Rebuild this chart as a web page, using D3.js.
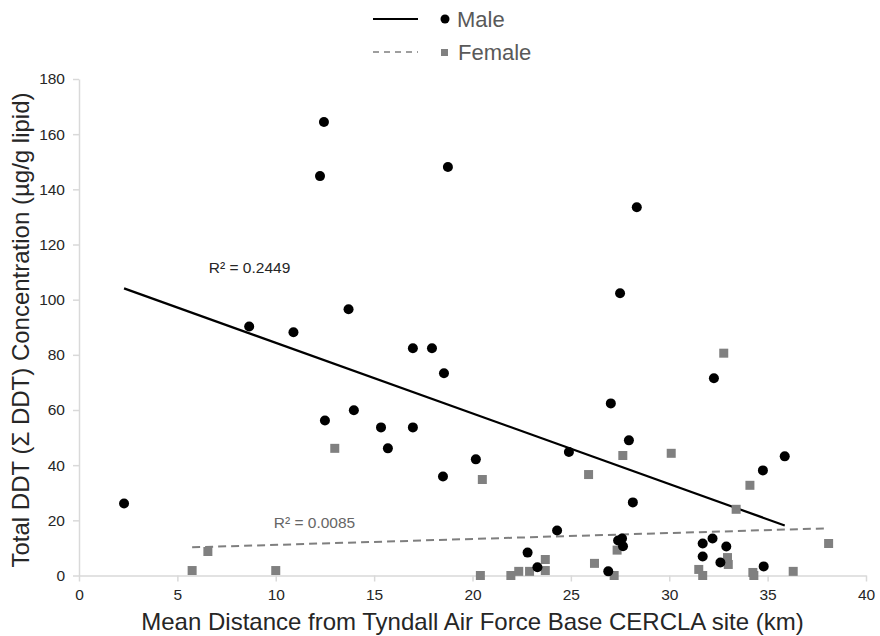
<!DOCTYPE html>
<html><head><meta charset="utf-8">
<script src="https://cdn.jsdelivr.net/npm/d3@7"></script>
<style>body{margin:0;background:#fff;} svg{display:block;font-family:"Liberation Sans",Arial,sans-serif;}</style>
</head><body>
<svg id="c" width="880" height="636"></svg>
<script>
const maleX = [2.29,8.65,10.9,12.25,12.45,12.5,13.7,13.97,15.35,15.7,16.97,16.97,17.94,18.55,18.5,18.75,20.17,22.8,23.3,24.3,24.9,26.9,27.03,27.4,27.6,27.65,27.5,27.95,28.15,28.35,31.7,31.7,32.2,32.27,32.6,32.9,34.76,34.8,35.87];
const maleY = [26.1,90.3,88.2,144.8,164.4,56.2,96.5,59.9,53.7,46.1,82.4,53.7,82.4,73.3,35.9,148.1,42.1,8.3,3.0,16.3,44.8,1.5,62.4,12.7,13.4,10.6,102.3,49.0,26.5,133.5,11.6,6.9,13.4,71.5,4.7,10.5,38.1,3.3,43.2];
const femaleX = [5.75,6.55,10.0,13.0,20.4,20.5,21.95,22.35,22.9,23.7,23.7,25.9,26.2,27.2,27.35,27.64,30.1,31.5,31.7,32.77,32.96,33.0,33.4,34.1,34.25,34.3,36.3,38.1];
const femaleY = [1.8,8.7,1.8,46.1,0,34.8,0,1.5,1.5,5.8,1.8,36.6,4.4,0,9.2,43.5,44.3,2.2,0,80.6,6.5,4.0,24.0,32.7,1.1,0,1.5,11.6];
const maleTrend = {slope:-2.56, intercept:109.96, r2:"R² = 0.2449"};
const femaleTrend = {slope:0.214, intercept:8.97, r2:"R² = 0.0085"};
const xTicks = [0,5,10,15,20,25,30,35,40];
const yTicks = [0,20,40,60,80,100,120,140,160,180];
const seriesNames = ["Male","Female"];

const svg = d3.select("#c");
const x = d3.scaleLinear().domain([0,40]).range([79,866]);
const y = d3.scaleLinear().domain([0,180]).range([575.5,79]);

// axes
const gx = svg.append("g").attr("transform","translate(0,575.5)")
  .call(d3.axisBottom(x).tickValues(xTicks).tickSize(6).tickPadding(7).tickSizeOuter(0));
const gy = svg.append("g").attr("transform","translate(79,0)")
  .call(d3.axisLeft(y).tickValues(yTicks).tickSize(6).tickPadding(8).tickSizeOuter(0));
[gx,gy].forEach(g=>{
  g.select(".domain").attr("stroke","#d9d9d9").attr("stroke-width",1.5);
  g.selectAll(".tick line").attr("stroke","#d9d9d9").attr("stroke-width",1.5);
  g.selectAll(".tick text").attr("fill","#262626").style("font-size","15.5px").style("font-family","Liberation Sans, Arial, sans-serif");
});

// trend lines
function trendPts(xs, t){
  const ext = d3.extent(xs);
  return ext.map(v=>[v, t.intercept + t.slope*v]);
}
const line = d3.line().x(d=>x(d[0])).y(d=>y(d[1]));
svg.append("path").attr("d", line(trendPts(maleX, maleTrend)))
  .attr("stroke","#000").attr("stroke-width",2.2).attr("fill","none");
svg.append("path").attr("d", line(trendPts(femaleX, femaleTrend)))
  .attr("stroke","#7f7f7f").attr("stroke-width",2).attr("stroke-dasharray","8,5").attr("fill","none");

// points
const fem = femaleX.map((v,i)=>[v,femaleY[i]]);
const mal = maleX.map((v,i)=>[v,maleY[i]]);
svg.append("g").selectAll("rect").data(fem).join("rect")
  .attr("x",d=>x(d[0])-4.5).attr("y",d=>y(d[1])-4.5).attr("width",9).attr("height",9)
  .attr("fill","#808080");
svg.append("g").selectAll("circle").data(mal).join("circle")
  .attr("cx",d=>x(d[0])).attr("cy",d=>y(d[1])).attr("r",5).attr("fill","#000");

// R2 labels
svg.append("text").attr("x",x(6.6)).attr("y",y(109.5)).text(maleTrend.r2)
  .attr("fill","#262626").style("font-size","15.5px");
svg.append("text").attr("x",x(9.9)).attr("y",y(17.3)).text(femaleTrend.r2)
  .attr("fill","#666").style("font-size","15.5px");

// axis titles
svg.append("text").attr("x",x(20)).attr("y",630).attr("text-anchor","middle")
  .text("Mean Distance from Tyndall Air Force Base CERCLA site (km)")
  .attr("fill","#262626").style("font-size","24px");
svg.append("text").attr("transform",`translate(29,${y(89)}) rotate(-90)`).attr("text-anchor","middle")
  .text("Total DDT (Σ DDT) Concentration (µg/g lipid)")
  .attr("fill","#262626").style("font-size","24px");

// legend
const lg = svg.append("g");
lg.append("line").attr("x1",373).attr("x2",418).attr("y1",19).attr("y2",19).attr("stroke","#000").attr("stroke-width",2.2);
lg.append("circle").attr("cx",445).attr("cy",19).attr("r",4.5).attr("fill","#000");
lg.append("text").attr("x",457).attr("y",27).text(seriesNames[0]).attr("fill","#595959").style("font-size","22px");
lg.append("line").attr("x1",373).attr("x2",418).attr("y1",52).attr("y2",52).attr("stroke","#7f7f7f").attr("stroke-width",1.6).attr("stroke-dasharray","6,5");
lg.append("rect").attr("x",441).attr("y",49).attr("width",7).attr("height",7).attr("fill","#808080");
lg.append("text").attr("x",458).attr("y",60).text(seriesNames[1]).attr("fill","#595959").style("font-size","22px");
</script>
</body></html>
